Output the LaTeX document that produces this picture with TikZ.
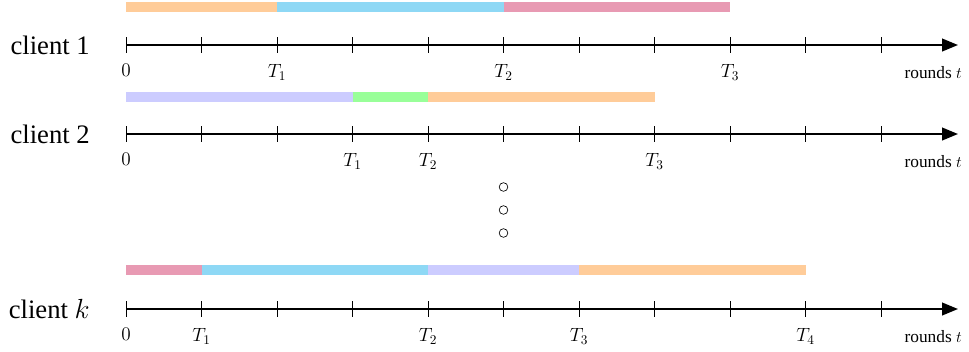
\documentclass[tikz,border=0pt]{standalone}
\usepackage[no-math]{fontspec}
\setmainfont{Liberation Serif}
\usetikzlibrary{arrows.meta}
\definecolor{cpeach}{HTML}{FFCC99}
\definecolor{cblue}{HTML}{8ED8F5}
\definecolor{cpink}{HTML}{E89AB3}
\definecolor{clav}{HTML}{CCCCFF}
\definecolor{cgreen}{HTML}{99FF99}
\begin{document}
\begin{tikzpicture}[x=0.75pt,y=-0.75pt,
  axisline/.style={line width=1.5pt,-{Triangle[length=12pt,width=9.5pt]}},
  tickline/.style={line width=0.6pt},
  barseg/.style={line width=7.5pt},
  clientlbl/.style={anchor=east,inner sep=0pt,font=\fontsize{20}{22}\selectfont},
  ticklbl/.style={anchor=north,inner sep=0pt,font=\fontsize{14}{16}\selectfont},
  roundlbl/.style={anchor=north east,inner sep=0pt,font=\fontsize{13}{15}\selectfont},
  dotmark/.style={circle,draw,line width=0.5pt,minimum size=6.5pt,inner sep=0pt}]
\useasboundingbox (0,0) rectangle (969,351);
\def\tx#1{126+75.5*#1}
% client 1
\node[clientlbl] (c1) at (90,45) {client 1};
\coordinate (a1s) at (126,45); \coordinate (a1e) at (958,45);
\draw[axisline] (a1s) -- (a1e);
\foreach \i in {0,...,10}{\draw[tickline] ({\tx{\i}},37) -- ({\tx{\i}},53);}
\draw[barseg,cpeach] ({\tx{0}},7) -- ({\tx{2}},7);
\draw[barseg,cblue] ({\tx{2}},7) -- ({\tx{5}},7);
\draw[barseg,cpink] ({\tx{5}},7) -- ({\tx{8}},7);
\node[ticklbl] (l10) at ({\tx{0}},64) {$0$};
\node[ticklbl] (l11) at ({\tx{2}},64) {$T_1$};
\node[ticklbl] (l12) at ({\tx{5}},64) {$T_2$};
\node[ticklbl] (l13) at ({\tx{8}},64) {$T_3$};
\node[roundlbl] (r1) at (962,66) {rounds $t$};
% client 2
\node[clientlbl] (c2) at (90,134) {client 2};
\coordinate (a2s) at (126,134); \coordinate (a2e) at (958,134);
\draw[axisline] (a2s) -- (a2e);
\foreach \i in {0,...,10}{\draw[tickline] ({\tx{\i}},126) -- ({\tx{\i}},142);}
\draw[barseg,clav] ({\tx{0}},97) -- ({\tx{3}},97);
\draw[barseg,cgreen] ({\tx{3}},97) -- ({\tx{4}},97);
\draw[barseg,cpeach] ({\tx{4}},97) -- ({\tx{7}},97);
\node[ticklbl] (l20) at ({\tx{0}},153) {$0$};
\node[ticklbl] (l21) at ({\tx{3}},153) {$T_1$};
\node[ticklbl] (l22) at ({\tx{4}},153) {$T_2$};
\node[ticklbl] (l23) at ({\tx{7}},153) {$T_3$};
\node[roundlbl] (r2) at (962,155) {rounds $t$};
% dots
\node[dotmark] (d1) at ({\tx{5}},187) {};
\node[dotmark] (d2) at ({\tx{5}},210) {};
\node[dotmark] (d3) at ({\tx{5}},233) {};
% client k
\node[clientlbl] (ck) at (90,309) {client $k$};
\coordinate (aks) at (126,309); \coordinate (ake) at (958,309);
\draw[axisline] (aks) -- (ake);
\foreach \i in {0,...,10}{\draw[tickline] ({\tx{\i}},301) -- ({\tx{\i}},317);}
\draw[barseg,cpink] ({\tx{0}},270) -- ({\tx{1}},270);
\draw[barseg,cblue] ({\tx{1}},270) -- ({\tx{4}},270);
\draw[barseg,clav] ({\tx{4}},270) -- ({\tx{6}},270);
\draw[barseg,cpeach] ({\tx{6}},270) -- ({\tx{9}},270);
\node[ticklbl] (lk0) at ({\tx{0}},328) {$0$};
\node[ticklbl] (lk1) at ({\tx{1}},328) {$T_1$};
\node[ticklbl] (lk2) at ({\tx{4}},328) {$T_2$};
\node[ticklbl] (lk3) at ({\tx{6}},328) {$T_3$};
\node[ticklbl] (lk4) at ({\tx{9}},328) {$T_4$};
\node[roundlbl] (rk) at (962,330) {rounds $t$};
\end{tikzpicture}
\end{document}
